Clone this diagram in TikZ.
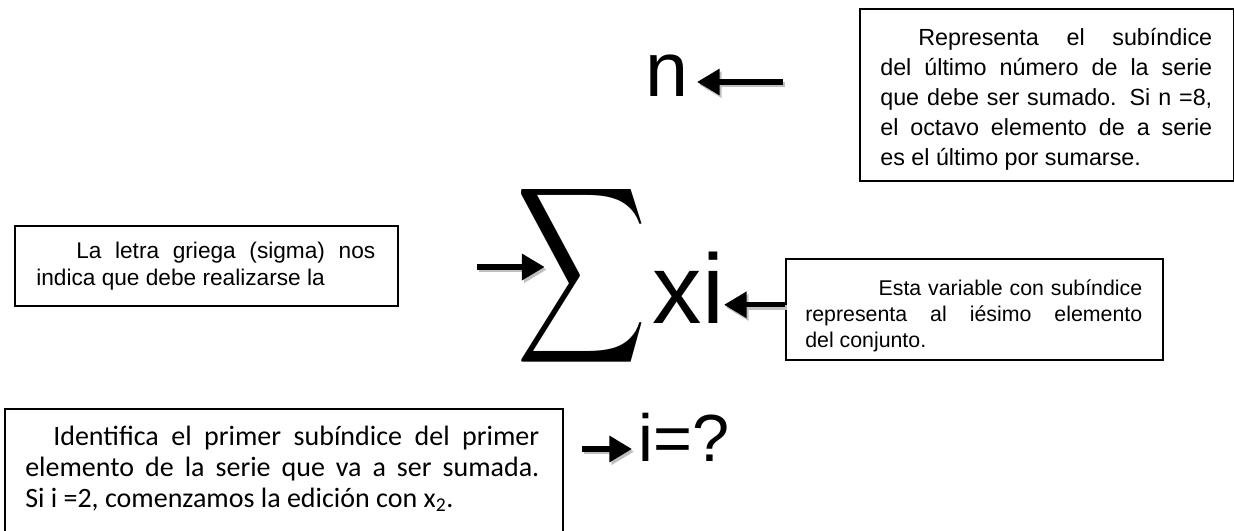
\documentclass[tikz,border=0pt]{standalone}
\usepackage{fontspec}
\usepackage{graphicx}
\setmainfont{Liberation Sans}
\newfontfamily\calibrifont{Carlito}
\usetikzlibrary{arrows.meta,positioning}
\tolerance=10000
\hyphenpenalty=10000
\tikzset{
        % Framed notes
        notebox/.style={draw=black, line width=1.2pt, inner sep=0pt, anchor=north west},
        % Justified text of the notes
        notetext/.style={align=justify, inner sep=0pt, anchor=north west},
        % Big symbols of the formula
        symbolnode/.style={inner sep=0pt, outer sep=0pt},
        % Thick arrows with a soft shadow
        fatarrow/.style={line width=4pt, -{Triangle[length=17pt,width=19pt]},
            preaction={draw=black!25, line width=4pt, -{Triangle[length=17pt,width=19pt]},
                transform canvas={shift={(1.5pt,-2pt)}}}}
}
\newcommand{\notestart}[1]{\noindent\rule{0pt}{20pt}\hspace*{#1}}

\begin{document}
\begin{tikzpicture}[x=0.75pt, y=-0.75pt]
            \useasboundingbox (0,0) rectangle (1234,531);
            % Notes
            \node[notebox, minimum width=280.5pt, minimum height=129pt] (boxN) at (859,8) {};
            \node[notetext, text width=249pt, font=\fontsize{17.5}{22.5}\selectfont] (textN) at (880,18.3)
                {\notestart{28.5pt}Representa el subíndice\linebreak del último número de la serie\linebreak que debe ser sumado. Si n =8,\linebreak el octavo elemento de a serie\linebreak es el último por sumarse.};
            \node[notebox, minimum width=287.25pt, minimum height=60pt] (boxS) at (14,225) {};
            \node[notetext, text width=254.25pt, font=\fontsize{17}{20.25}\selectfont] (textS) at (36,231.3)
                {\parfillskip=0pt\notestart{30pt}La letra griega (sigma) nos\linebreak indica que debe realizarse la};
            \node[notebox, minimum width=282.75pt, minimum height=75.75pt] (boxX) at (785,258) {};
            \node[notetext, text width=252.75pt, font=\fontsize{16}{19.5}\selectfont] (textX) at (805,268.3)
                {\notestart{55pt}Esta variable con subíndice\linebreak representa al iésimo elemento\linebreak del conjunto.};
            \node[notebox, minimum width=418.5pt, minimum height=102.75pt] (boxI) at (4,408) {};
            \node[notetext, text width=385.5pt, font=\calibrifont\fontsize{21}{23.25}\selectfont] (textI) at (25,418.3)
                {\notestart{21pt}Identifica el primer subíndice del primer\linebreak elemento de la serie que va a ser sumada.\linebreak Si i =2, comenzamos la edición con x\textsubscript{2}.};
            % Formula
            \node[symbolnode, anchor=base east, font=\fontsize{58}{58}\selectfont, outer xsep=6.75pt] (nsym) at (697,97) {n};
            \node[symbolnode] (sigsym) at (582,276) {\resizebox*{98pt}{148pt}{$\displaystyle\sum$}};
            \node[symbolnode, anchor=base east, font=\fontsize{74}{74}\selectfont] (xisym) at (724,323) {xi};
            \node[symbolnode, anchor=base west, font=\fontsize{50}{50}\selectfont, outer xsep=4.9pt] (isym) at (632,461) {i=?};
            % Arrows
            \coordinate (nTail) at (783,82);
            \draw[fatarrow] (nTail) -- (nTail -| nsym.east);
            \coordinate (sigTail) at (477,267);
            \path (sigTail -| sigsym.west) ++(28,0) coordinate (sigTip);
            \draw[fatarrow] (sigTail) -- (sigTip);
            \path (boxX.west) ++(0,-4.5) coordinate (xTail);
            \draw[fatarrow] (xTail) -- (xTail -| xisym.east);
            \coordinate (iTail) at (582,449);
            \draw[fatarrow] (iTail) -- (iTail -| isym.west);
\end{tikzpicture}
\end{document}
